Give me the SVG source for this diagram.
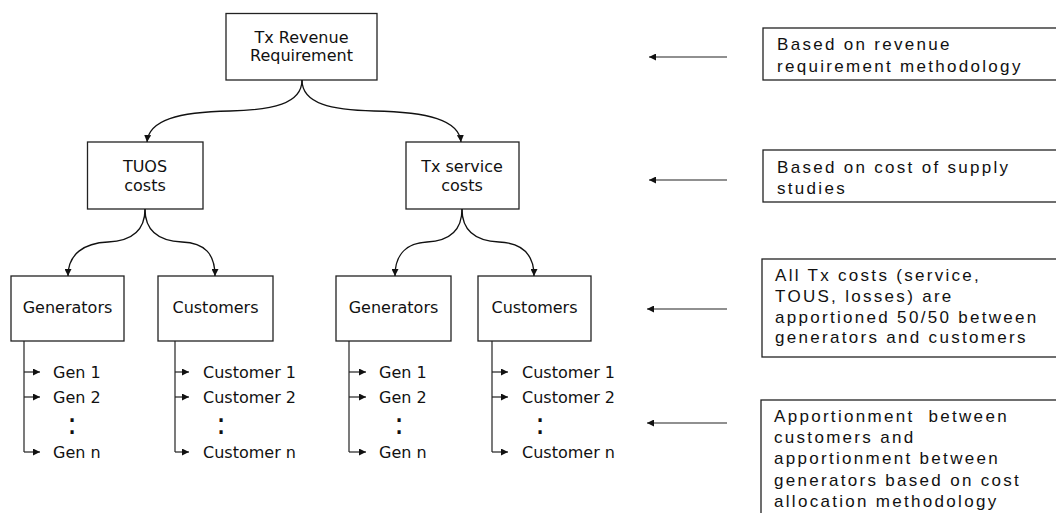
<svg xmlns="http://www.w3.org/2000/svg" width="1056" height="513" viewBox="0 0 1056 513">
  <style>
    .box { fill: #ffffff; stroke: #222; stroke-width: 1.3; }
    .lbl { font-family: "DejaVu Sans", Verdana, sans-serif; font-size: 16px; fill: #111; }
    .mid { text-anchor: middle; }
    .note { font-family: "Liberation Sans", Arial, sans-serif; font-size: 17px; letter-spacing: 2.3px; fill: #111; }
    .dots { font-family: "DejaVu Sans", Verdana, sans-serif; font-size: 30px; fill: #111; text-anchor: middle; }
    .link { fill: none; stroke: #111; stroke-width: 1.3; }
    .thin { fill: none; stroke: #222; stroke-width: 1.2; }
  </style>
  <defs>
    <marker id="head" viewBox="0 0 10 10" refX="10" refY="5" markerWidth="7" markerHeight="7" markerUnits="userSpaceOnUse" orient="auto">
      <path d="M0,0 L10,5 L0,10 z" fill="#111"/>
    </marker>
  </defs>

  <rect width="1056" height="513" fill="#ffffff"/>

  <!-- hierarchy nodes -->
  <g id="revenue">
    <rect class="box" x="226" y="13.5" width="151" height="66.5"/>
    <text class="lbl mid" x="301.5" y="43">Tx Revenue</text>
    <text class="lbl mid" x="301.5" y="61">Requirement</text>
  </g>
  <g id="tuos">
    <rect class="box" x="87.5" y="142" width="115.5" height="67"/>
    <text class="lbl mid" x="145" y="172">TUOS</text>
    <text class="lbl mid" x="145" y="191">costs</text>
  </g>
  <g id="service">
    <rect class="box" x="406" y="142" width="113" height="67"/>
    <text class="lbl mid" x="462" y="172">Tx service</text>
    <text class="lbl mid" x="462" y="191">costs</text>
  </g>
  <g id="gen-tuos">
    <rect class="box" x="11" y="276" width="113" height="65"/>
    <text class="lbl mid" x="67.5" y="313">Generators</text>
  </g>
  <g id="cust-tuos">
    <rect class="box" x="158" y="276" width="115" height="65"/>
    <text class="lbl mid" x="215.5" y="313">Customers</text>
  </g>
  <g id="gen-service">
    <rect class="box" x="336" y="276" width="115" height="65"/>
    <text class="lbl mid" x="393.5" y="313">Generators</text>
  </g>
  <g id="cust-service">
    <rect class="box" x="478" y="276" width="113" height="65"/>
    <text class="lbl mid" x="534.5" y="313">Customers</text>
  </g>

  <!-- member lists -->
  <g id="list-gen-tuos">
    <text class="lbl" x="53" y="378">Gen 1</text>
    <text class="lbl" x="53" y="403">Gen 2</text>
    <text class="dots" x="72" y="434">:</text>
    <text class="lbl" x="53" y="458">Gen n</text>
  </g>
  <g id="list-cust-tuos">
    <text class="lbl" x="203" y="378">Customer 1</text>
    <text class="lbl" x="203" y="403">Customer 2</text>
    <text class="dots" x="221" y="434">:</text>
    <text class="lbl" x="203" y="458">Customer n</text>
  </g>
  <g id="list-gen-service">
    <text class="lbl" x="379" y="378">Gen 1</text>
    <text class="lbl" x="379" y="403">Gen 2</text>
    <text class="dots" x="399" y="434">:</text>
    <text class="lbl" x="379" y="458">Gen n</text>
  </g>
  <g id="list-cust-service">
    <text class="lbl" x="522" y="378">Customer 1</text>
    <text class="lbl" x="522" y="403">Customer 2</text>
    <text class="dots" x="540" y="434">:</text>
    <text class="lbl" x="522" y="458">Customer n</text>
  </g>

  <!-- explanatory notes -->
  <g id="note-revenue">
    <rect class="box" x="763" y="28" width="300" height="52"/>
    <text class="note" x="777" y="50">Based on revenue</text>
    <text class="note" x="777" y="72">requirement methodology</text>
  </g>
  <g id="note-supply">
    <rect class="box" x="763" y="150" width="300" height="52"/>
    <text class="note" x="777" y="173">Based on cost of supply</text>
    <text class="note" x="777" y="194">studies</text>
  </g>
  <g id="note-split">
    <rect class="box" x="762" y="259" width="300" height="98"/>
    <text class="note" x="775" y="281">All Tx costs (service,</text>
    <text class="note" x="775" y="302">TOUS, losses) are</text>
    <text class="note" x="775" y="323">apportioned 50/50 between</text>
    <text class="note" x="775" y="343">generators and customers</text>
  </g>
  <g id="note-allocation">
    <rect class="box" x="761" y="400" width="300" height="130"/>
    <text class="note" x="774" y="422" xml:space="preserve">Apportionment  between</text>
    <text class="note" x="774" y="443">customers and</text>
    <text class="note" x="774" y="464">apportionment between</text>
    <text class="note" x="774" y="486">generators based on cost</text>
    <text class="note" x="774" y="507">allocation methodology</text>
  </g>

  <!-- connectors -->
  <g id="connectors">
    <path class="link" marker-end="url(#head)" d="M302,80 C302,104 272,110 230,111 C178,112 149,120 147,142"/>
    <path class="link" marker-end="url(#head)" d="M302,80 C302,104 332,110 374,111 C428,112 459,120 461,142"/>
    <path class="link" marker-end="url(#head)" d="M145,209 C145,232 130,241 108,242 C84,243 68,254 68,276"/>
    <path class="link" marker-end="url(#head)" d="M145,209 C145,232 160,241 182,242 C205,243 215,254 215,276"/>
    <path class="link" marker-end="url(#head)" d="M462,209 C462,232 447,241 427,242 C407,243 395,254 395,276"/>
    <path class="link" marker-end="url(#head)" d="M462,209 C462,232 477,241 499,242 C522,243 534,254 534,276"/>

    <path class="thin" d="M24,341 V452"/>
    <path class="thin" marker-end="url(#head)" d="M24,372 H40"/>
    <path class="thin" marker-end="url(#head)" d="M24,397 H40"/>
    <path class="thin" marker-end="url(#head)" d="M24,452 H40"/>

    <path class="thin" d="M175,341 V452"/>
    <path class="thin" marker-end="url(#head)" d="M175,372 H189"/>
    <path class="thin" marker-end="url(#head)" d="M175,397 H189"/>
    <path class="thin" marker-end="url(#head)" d="M175,452 H189"/>

    <path class="thin" d="M349,341 V452"/>
    <path class="thin" marker-end="url(#head)" d="M349,372 H366"/>
    <path class="thin" marker-end="url(#head)" d="M349,397 H366"/>
    <path class="thin" marker-end="url(#head)" d="M349,452 H366"/>

    <path class="thin" d="M492,341 V452"/>
    <path class="thin" marker-end="url(#head)" d="M492,372 H508"/>
    <path class="thin" marker-end="url(#head)" d="M492,397 H508"/>
    <path class="thin" marker-end="url(#head)" d="M492,452 H508"/>

    <path class="thin" marker-end="url(#head)" d="M727,57 H649"/>
    <path class="thin" marker-end="url(#head)" d="M727,180 H649"/>
    <path class="thin" marker-end="url(#head)" d="M727,309 H647"/>
    <path class="thin" marker-end="url(#head)" d="M727,423 H647"/>
  </g>
</svg>
